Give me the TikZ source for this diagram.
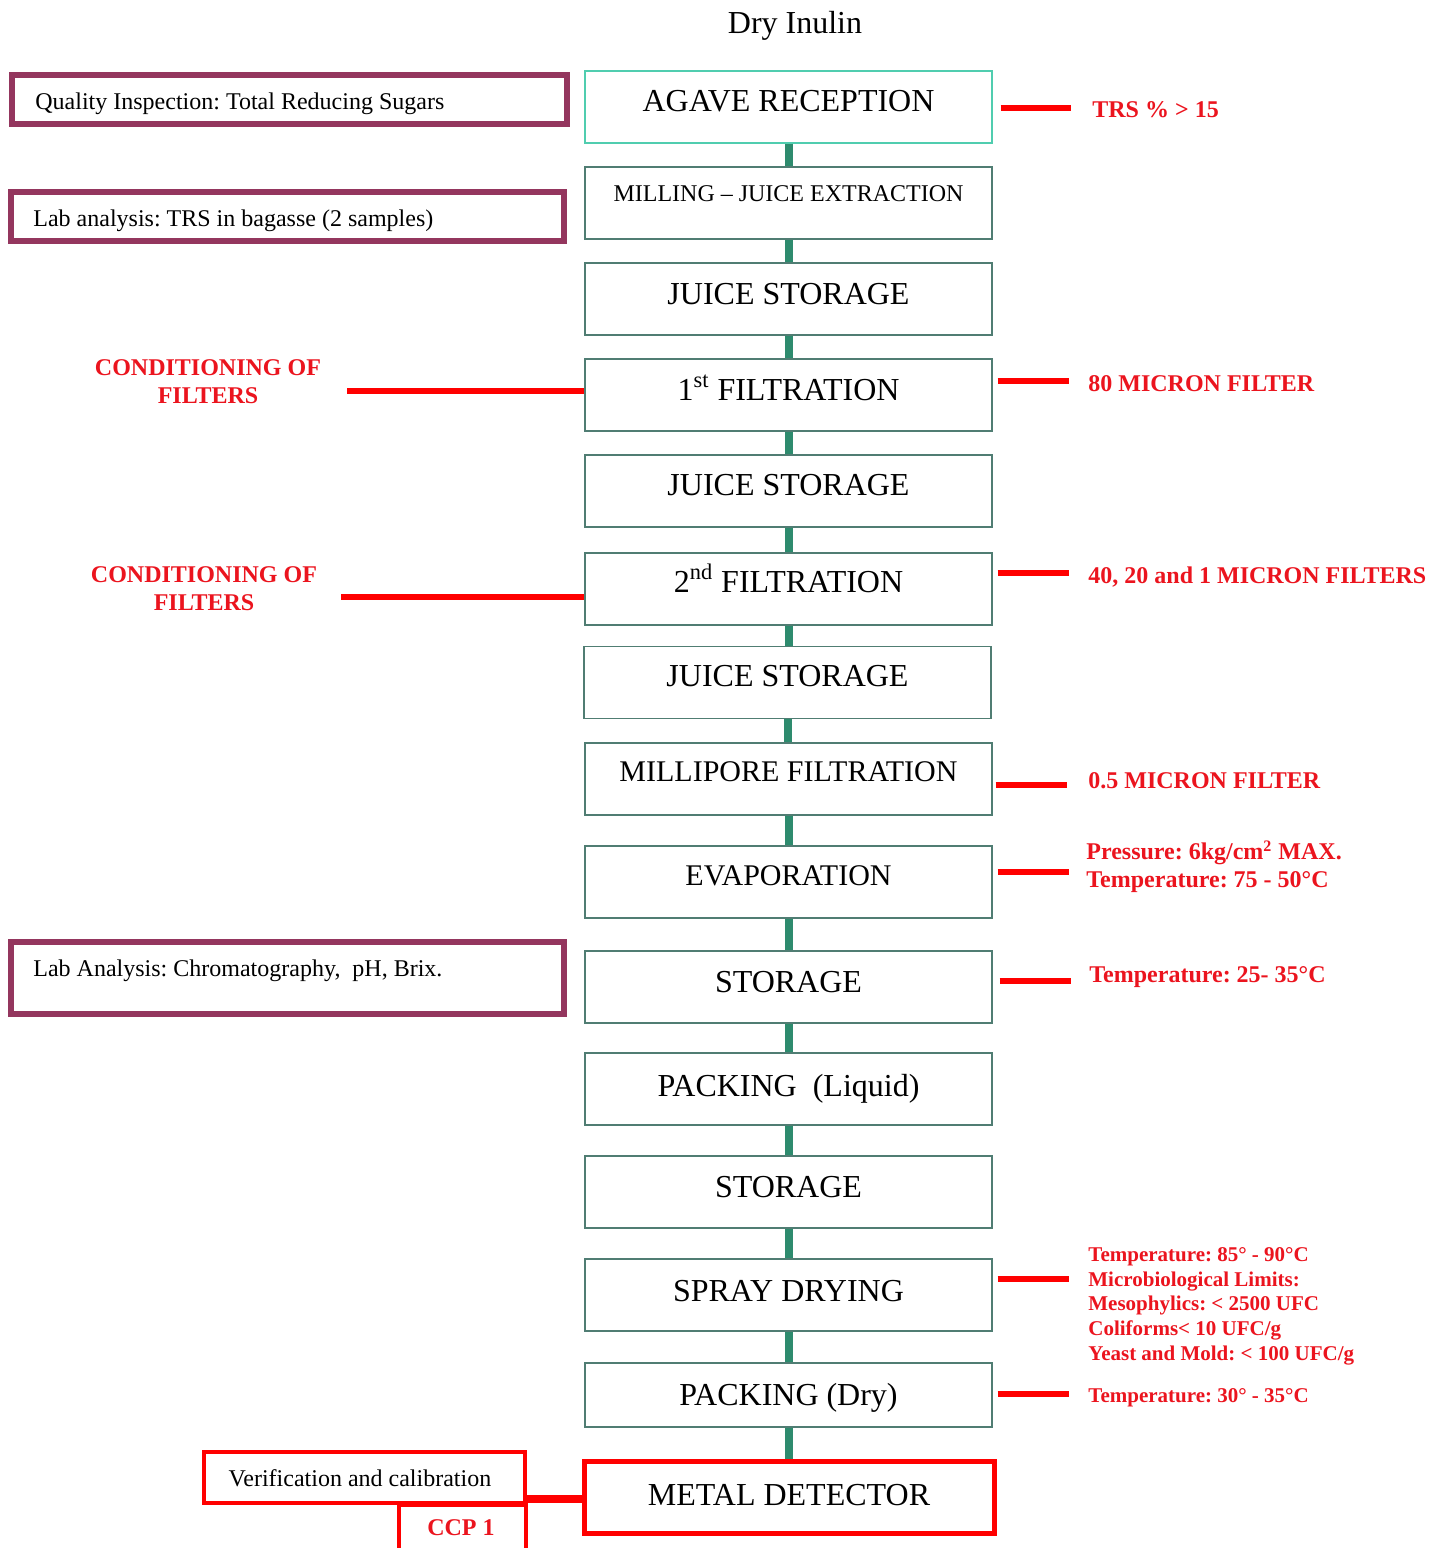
\documentclass[tikz,border=0pt]{standalone}
\usepackage{fontspec}
\setmainfont{Liberation Serif}
\usetikzlibrary{calc}
\definecolor{boxc}{RGB}{80,125,115}
\definecolor{boxtop}{RGB}{80,205,175}
\definecolor{conn}{RGB}{46,139,110}
\definecolor{purp}{RGB}{148,54,94}
\definecolor{lred}{RGB}{235,20,30}
\frenchspacing
\begin{document}
\begin{tikzpicture}[x=0.5pt,y=-0.5pt,
  box/.style={draw=boxc, line width=0.7pt, minimum width=203.5pt, minimum height=36pt, inner sep=0pt},
  btxt/.style={font=\fontsize{16}{18}\selectfont, text height=0.66em, text depth=0pt, inner sep=0pt, yshift=-2.3pt},
  cn/.style={draw=conn, line width=4pt},
  rl/.style={draw=red, line width=3pt},
  rtxt/.style={font=\bfseries\fontsize{12}{14}\selectfont, text=lred, text height=0.66em, text depth=0pt, inner ysep=0pt, inner xsep=10.5pt, anchor=west, yshift=-1pt},
  pbox/.style={draw=purp, line width=3pt, inner sep=0pt},
  ptxt/.style={font=\fontsize{12}{14}\selectfont, text height=0.66em, text depth=0pt, inner sep=0pt, anchor=west, yshift=-1pt},
]
\useasboundingbox (0,0) rectangle (1444,1548);

% title
\node[btxt] (title) at (795,22) {Dry Inulin};

% main column boxes
\node[box, draw=boxtop] (b1) at (788.5,107) {};
\node[btxt] (t1) at (788.5,100) {AGAVE RECEPTION};
\node[box] (b2) at (788.5,203) {};
\node[btxt, font=\fontsize{12}{14}\selectfont, yshift=0.7pt] (t2) at (788.5,192) {MILLING -- JUICE EXTRACTION};
\node[box] (b3) at (788.5,299) {};
\node[btxt] (t3) at (788.5,293) {JUICE STORAGE};
\node[box] (b4) at (788.5,395) {};
\node[btxt] (t4) at (788.5,389) {1\textsuperscript{st} FILTRATION};
\node[box] (b5) at (788.5,491) {};
\node[btxt] (t5) at (788.5,484) {JUICE STORAGE};
\node[box] (b6) at (788.5,589) {};
\node[btxt] (t6) at (788.5,581) {2\textsuperscript{nd} FILTRATION};
\node[box] (b7) at (787.5,682.5) {};
\node[btxt] (t7) at (787.5,675) {JUICE STORAGE};
\node[box] (b8) at (788.5,779) {};
\node[btxt, font=\fontsize{15}{17}\selectfont] (t8) at (788.5,770) {MILLIPORE FILTRATION};
\node[box] (b9) at (788.5,882) {};
\node[btxt, font=\fontsize{15}{17}\selectfont] (t9) at (788.5,874) {EVAPORATION};
\node[box] (b10) at (788.5,987) {};
\node[btxt] (t10) at (788.5,981) {STORAGE};
\node[box] (b11) at (788.5,1089) {};
\node[btxt] (t11) at (788.5,1085) {PACKING\ \ (Liquid)};
\node[box] (b12) at (788.5,1192) {};
\node[btxt] (t12) at (788.5,1186) {STORAGE};
\node[box] (b13) at (788.5,1295) {};
\node[btxt] (t13) at (788.5,1290) {SPRAY DRYING};
\node[box, minimum height=32pt] (b14) at (788.5,1395) {};
\node[btxt] (t14) at (788.5,1394) {PACKING (Dry)};
\node[box, draw=red, line width=2.5pt, minimum width=205pt] (b15) at (789,1497) {};
\node[btxt] (t15) at (789,1494) {METAL DETECTOR};

% connectors
\foreach \a/\b in {b1/b2,b2/b3,b3/b4,b4/b5,b5/b6,b6/b7,b7/b8,b8/b9,b9/b10,b10/b11,b11/b12,b12/b13,b13/b14,b14/b15}
  \draw[cn] (\a.south) -- (\a.south |- \b.north);

% purple boxes on the left
\node[pbox, minimum width=277.5pt, minimum height=24.5pt] (q1) at (289,99.5) {};
\node[ptxt] (q1t) at (35,101) {Quality Inspection: Total Reducing Sugars};
\node[pbox, minimum width=276.5pt, minimum height=24.5pt] (q2) at (287.5,216.5) {};
\node[ptxt] (q2t) at (33,218) {Lab analysis: TRS in bagasse (2 samples)};
\node[pbox, minimum width=276.5pt, minimum height=36pt] (q3) at (287.5,978) {};
\node[ptxt] (q3t) at (33,968) {Lab Analysis: Chromatography,\ \ pH, Brix.};

% conditioning of filters
\node[font=\bfseries\fontsize{12}{14}\selectfont, text=lred, align=center, inner xsep=13pt, inner ysep=0pt] (c1) at (208,382) {CONDITIONING OF\\FILTERS};
\draw[rl] (c1.east |- 0,391) -- (b4.west |- 0,391);
\node[font=\bfseries\fontsize{12}{14}\selectfont, text=lred, align=center, inner xsep=12pt, inner ysep=0pt] (c2) at (204,588.5) {CONDITIONING OF\\FILTERS};
\draw[rl] (c2.east |- 0,597) -- (b6.west |- 0,597);

% right labels
\node[rtxt] (r1) at (1071,109) {TRS \% > 15};
\draw[rl] ($(b1.east |- 0,108)+(8,0)$) -- (r1.west |- 0,108);
\node[rtxt] (r4) at (1067,383) {80 MICRON FILTER};
\draw[rl] ($(b4.east |- 0,381)+(5,0)$) -- (1069,381) coordinate (r4e);
\node[rtxt] (r6) at (1067,575) {40, 20 and 1 MICRON FILTERS};
\draw[rl] ($(b6.east |- 0,573)+(5,0)$) -- (1069,573) coordinate (r6e);
\node[rtxt] (r8) at (1067,780) {0.5 MICRON FILTER};
\draw[rl] ($(b8.east |- 0,785)+(3,0)$) -- (1067,785) coordinate (r8e);
\node[font=\bfseries\fontsize{12}{14}\selectfont, text=lred, align=left, anchor=north west, inner sep=0pt] (r9) at (1086,840) {Pressure: 6kg/cm\textsuperscript{2} MAX.\\Temperature: 75 - 50°C};
\draw[rl] ($(b9.east |- 0,872)+(5,0)$) -- (1069,872) coordinate (r9e);
\node[rtxt] (r10) at (1068,974) {Temperature: 25- 35°C};
\draw[rl] ($(b10.east |- 0,981)+(7,0)$) -- (1071,981) coordinate (r10e);
\node[font=\bfseries\fontsize{10.5}{12.4}\selectfont, text=lred, align=left, anchor=north west, inner sep=0pt] (r13) at (1088,1247) {Temperature: 85° - 90°C\\Microbiological Limits:\\Mesophylics: < 2500 UFC\\Coliforms< 10 UFC/g\\Yeast and Mold: < 100 UFC/g};
\draw[rl] ($(b13.east |- 0,1279)+(5,0)$) -- (1069,1279) coordinate (r13e);
\node[rtxt, font=\bfseries\fontsize{10.5}{12.4}\selectfont] (r14) at (1067,1394) {Temperature: 30° - 35°C};
\draw[rl] ($(b14.east |- 0,1394)+(5,0)$) -- (1069,1394) coordinate (r14e);

% CCP area
\node[draw=red, line width=2pt, minimum width=160.5pt, minimum height=25.5pt, inner sep=0pt] (v) at (364.5,1477.5) {};
\node[font=\fontsize{12}{14}\selectfont, text height=0.66em, text depth=0pt, inner sep=0pt, yshift=-1pt] (vt) at (360,1478) {Verification and calibration};
\node[draw=red, line width=2pt, minimum width=63.5pt, minimum height=40pt, inner sep=0pt, anchor=north] (ccp) at (462.5,1503) {};
\node[font=\bfseries\fontsize{12}{14}\selectfont, text=lred, text height=0.66em, text depth=0pt, inner sep=0pt, yshift=-1pt] (ccpt) at (461,1527) {CCP 1};
\draw[draw=red, line width=4pt] (v.east |- 0,1499) -- (b15.west |- 0,1499);
\end{tikzpicture}
\end{document}
